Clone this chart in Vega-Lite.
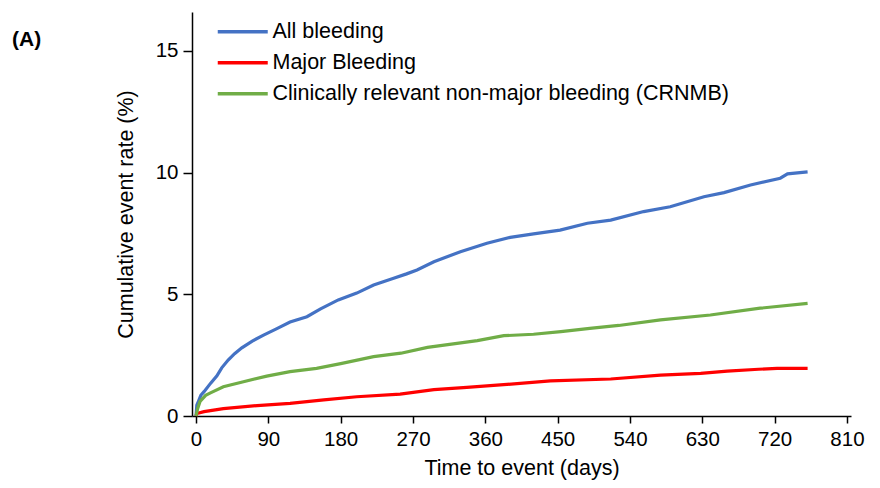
{
  "$schema": "https://vega.github.io/schema/vega-lite/v6.json",
  "autosize": "none",
  "width": 659,
  "height": 404,
  "padding": {"left": 192, "top": 12, "right": 29, "bottom": 72},
  "background": "white",
  "config": {
    "view": {"stroke": null},
    "font": "Liberation Sans",
    "axis": {"grid": false, "domainColor": "black", "tickColor": "black", "domainWidth": 1.5, "tickWidth": 1.5, "labelColor": "black", "titleColor": "black", "labelFont": "Liberation Sans", "titleFont": "Liberation Sans", "labelFontSize": 20.5, "titleFontSize": 21.5, "titleFontWeight": "normal"}
  },
  "title": {"text": "(A)", "anchor": "start", "frame": "group", "fontSize": 21, "fontWeight": "bold", "font": "Liberation Sans", "color": "black", "offset": -21, "baseline": "alphabetic", "dx": -180, "dy": 34},
  "data": {"values": [
    {"s": "All bleeding", "d": 0, "v": 0},
    {"s": "All bleeding", "d": 1, "v": 0.45},
    {"s": "All bleeding", "d": 3, "v": 0.6},
    {"s": "All bleeding", "d": 6, "v": 0.85},
    {"s": "All bleeding", "d": 10, "v": 1.0},
    {"s": "All bleeding", "d": 18, "v": 1.34},
    {"s": "All bleeding", "d": 26, "v": 1.65},
    {"s": "All bleeding", "d": 32, "v": 1.98},
    {"s": "All bleeding", "d": 40, "v": 2.3},
    {"s": "All bleeding", "d": 48, "v": 2.56},
    {"s": "All bleeding", "d": 57, "v": 2.8},
    {"s": "All bleeding", "d": 70, "v": 3.08},
    {"s": "All bleeding", "d": 84, "v": 3.32},
    {"s": "All bleeding", "d": 100, "v": 3.58},
    {"s": "All bleeding", "d": 117, "v": 3.86},
    {"s": "All bleeding", "d": 138, "v": 4.08},
    {"s": "All bleeding", "d": 155, "v": 4.4},
    {"s": "All bleeding", "d": 177, "v": 4.77},
    {"s": "All bleeding", "d": 200, "v": 5.05},
    {"s": "All bleeding", "d": 221, "v": 5.38},
    {"s": "All bleeding", "d": 245, "v": 5.65},
    {"s": "All bleeding", "d": 262, "v": 5.84},
    {"s": "All bleeding", "d": 275, "v": 6.0},
    {"s": "All bleeding", "d": 296, "v": 6.34},
    {"s": "All bleeding", "d": 329, "v": 6.75},
    {"s": "All bleeding", "d": 362, "v": 7.1},
    {"s": "All bleeding", "d": 391, "v": 7.34},
    {"s": "All bleeding", "d": 420, "v": 7.48},
    {"s": "All bleeding", "d": 453, "v": 7.64},
    {"s": "All bleeding", "d": 487, "v": 7.92},
    {"s": "All bleeding", "d": 516, "v": 8.05},
    {"s": "All bleeding", "d": 557, "v": 8.4},
    {"s": "All bleeding", "d": 590, "v": 8.6},
    {"s": "All bleeding", "d": 632, "v": 9.01},
    {"s": "All bleeding", "d": 657, "v": 9.18},
    {"s": "All bleeding", "d": 690, "v": 9.49},
    {"s": "All bleeding", "d": 727, "v": 9.77},
    {"s": "All bleeding", "d": 736, "v": 9.95},
    {"s": "All bleeding", "d": 761, "v": 10.03},
    {"s": "Major Bleeding", "d": 0, "v": 0},
    {"s": "Major Bleeding", "d": 1, "v": 0.1},
    {"s": "Major Bleeding", "d": 10, "v": 0.18},
    {"s": "Major Bleeding", "d": 34, "v": 0.3},
    {"s": "Major Bleeding", "d": 76, "v": 0.43},
    {"s": "Major Bleeding", "d": 117, "v": 0.52},
    {"s": "Major Bleeding", "d": 159, "v": 0.66},
    {"s": "Major Bleeding", "d": 200, "v": 0.79},
    {"s": "Major Bleeding", "d": 254, "v": 0.9},
    {"s": "Major Bleeding", "d": 296, "v": 1.08},
    {"s": "Major Bleeding", "d": 337, "v": 1.18},
    {"s": "Major Bleeding", "d": 387, "v": 1.3},
    {"s": "Major Bleeding", "d": 441, "v": 1.44},
    {"s": "Major Bleeding", "d": 516, "v": 1.52},
    {"s": "Major Bleeding", "d": 578, "v": 1.68},
    {"s": "Major Bleeding", "d": 628, "v": 1.75},
    {"s": "Major Bleeding", "d": 661, "v": 1.84},
    {"s": "Major Bleeding", "d": 700, "v": 1.92},
    {"s": "Major Bleeding", "d": 723, "v": 1.96},
    {"s": "Major Bleeding", "d": 761, "v": 1.96},
    {"s": "Clinically relevant non-major bleeding (CRNMB)", "d": 0, "v": 0},
    {"s": "Clinically relevant non-major bleeding (CRNMB)", "d": 2, "v": 0.3},
    {"s": "Clinically relevant non-major bleeding (CRNMB)", "d": 5, "v": 0.6},
    {"s": "Clinically relevant non-major bleeding (CRNMB)", "d": 12, "v": 0.85},
    {"s": "Clinically relevant non-major bleeding (CRNMB)", "d": 18, "v": 0.95},
    {"s": "Clinically relevant non-major bleeding (CRNMB)", "d": 34, "v": 1.2},
    {"s": "Clinically relevant non-major bleeding (CRNMB)", "d": 59, "v": 1.41},
    {"s": "Clinically relevant non-major bleeding (CRNMB)", "d": 88, "v": 1.64},
    {"s": "Clinically relevant non-major bleeding (CRNMB)", "d": 117, "v": 1.82},
    {"s": "Clinically relevant non-major bleeding (CRNMB)", "d": 150, "v": 1.96},
    {"s": "Clinically relevant non-major bleeding (CRNMB)", "d": 180, "v": 2.15},
    {"s": "Clinically relevant non-major bleeding (CRNMB)", "d": 221, "v": 2.44},
    {"s": "Clinically relevant non-major bleeding (CRNMB)", "d": 255, "v": 2.58},
    {"s": "Clinically relevant non-major bleeding (CRNMB)", "d": 288, "v": 2.82},
    {"s": "Clinically relevant non-major bleeding (CRNMB)", "d": 350, "v": 3.1},
    {"s": "Clinically relevant non-major bleeding (CRNMB)", "d": 383, "v": 3.3},
    {"s": "Clinically relevant non-major bleeding (CRNMB)", "d": 420, "v": 3.36},
    {"s": "Clinically relevant non-major bleeding (CRNMB)", "d": 454, "v": 3.47},
    {"s": "Clinically relevant non-major bleeding (CRNMB)", "d": 490, "v": 3.6},
    {"s": "Clinically relevant non-major bleeding (CRNMB)", "d": 526, "v": 3.72},
    {"s": "Clinically relevant non-major bleeding (CRNMB)", "d": 578, "v": 3.95},
    {"s": "Clinically relevant non-major bleeding (CRNMB)", "d": 640, "v": 4.15},
    {"s": "Clinically relevant non-major bleeding (CRNMB)", "d": 702, "v": 4.43},
    {"s": "Clinically relevant non-major bleeding (CRNMB)", "d": 761, "v": 4.63}
  ]},
  "mark": {"type": "line", "strokeWidth": 3.2, "interpolate": "linear"},
  "encoding": {
    "x": {"field": "d", "type": "quantitative", "title": "Time to event (days)",
      "scale": {"domain": [-5, 815], "nice": false, "zero": false},
      "axis": {"values": [0, 90, 180, 270, 360, 450, 540, 630, 720, 810], "tickSize": 7, "labelPadding": 6, "titlePadding": 8}},
    "y": {"field": "v", "type": "quantitative", "title": "Cumulative event rate (%)",
      "scale": {"domain": [0, 16.6], "nice": false},
      "axis": {"values": [0, 5, 10, 15], "tickSize": 9, "labelPadding": 5, "titlePadding": 18}},
    "color": {"field": "s", "type": "nominal", "sort": null,
      "scale": {"domain": ["All bleeding", "Major Bleeding", "Clinically relevant non-major bleeding (CRNMB)"], "range": ["#4472C4", "#FF0000", "#70AD47"]},
      "legend": {"title": null, "orient": "none", "legendX": 40, "legendY": 9, "symbolType": "M-5,0H5", "symbolSize": 100, "symbolStrokeWidth": 3.5, "labelFontSize": 21.5, "labelFont": "Liberation Sans", "labelColor": "black", "labelOffset": 19, "rowPadding": 8, "padding": 0, "labelLimit": 600}
    }
  }
}
